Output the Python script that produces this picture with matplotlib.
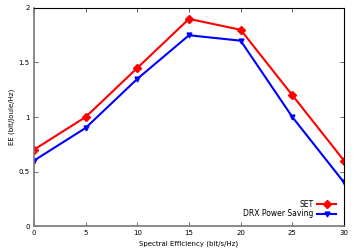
import matplotlib
matplotlib.use("Agg")
import matplotlib.pyplot as plt

x = [0, 5, 10, 15, 20, 25, 30]
set_vals = [0.7, 1.0, 1.45, 1.9, 1.8, 1.2, 0.6]
drx_vals = [0.6, 0.9, 1.35, 1.75, 1.7, 1.0, 0.4]
xticks = [0, 5, 10, 15, 20, 25, 30]
yticks = [0, 0.5, 1, 1.5, 2]
yticklabels = ["0", "0.5", "1", "1.5", "2"]

fig = plt.figure(figsize=(3.56, 2.49), dpi=100)
ax = fig.add_axes([34/356, 1-226/249, (344-34)/356, (226-8)/249])

ax.plot(x, set_vals, color="#ff0000", lw=1.5, marker="D", ms=4.2, label="SET")
ax.plot(x, drx_vals, color="#0000ff", lw=1.5, marker="v", ms=3.5, label="DRX Power Saving")

ax.set_xlim(0, 30)
ax.set_ylim(0, 2)
ax.set_xticks(xticks)
ax.set_yticks(yticks)
ax.set_yticklabels(yticklabels)
ax.tick_params(direction="in", length=3, width=0.6, labelsize=5, top=True, right=True, pad=3, color="#555555")
for s in ax.spines.values():
    s.set_linewidth(0.8)
    s.set_color("black")
ax.spines["left"].set_color("#777777")
ax.spines["left"].set_linewidth(1.2)
ax.spines["bottom"].set_color("#777777")
ax.spines["bottom"].set_linewidth(1.2)

ax.set_xlabel("Spectral Efficiency (bit/s/Hz)", fontsize=5, labelpad=3)
ax.set_ylabel("EE (bit/Joule/Hz)", fontsize=5, labelpad=3)

leg = ax.legend(loc="lower right", fontsize=5.5, frameon=False, markerfirst=False,
                handlelength=2.5, handletextpad=0.5, borderaxespad=0.6, labelspacing=0.1)
for t in leg.get_texts():
    t.set_ha("right")

fig.savefig("out.png", dpi=100)
